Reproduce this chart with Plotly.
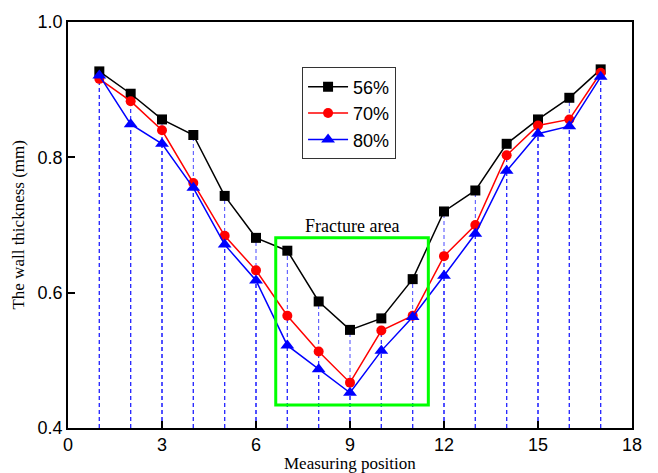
import plotly.graph_objects as go

# Measuring positions along the tube
positions = list(range(1, 18))

# Wall thickness (mm) for each thinning ratio
thick_56 = [0.927, 0.894, 0.856, 0.833, 0.743, 0.681, 0.662, 0.587, 0.545, 0.562,
            0.620, 0.720, 0.751, 0.820, 0.856, 0.888, 0.930]
thick_70 = [0.916, 0.883, 0.840, 0.762, 0.684, 0.633, 0.566, 0.513, 0.467, 0.544,
            0.566, 0.654, 0.700, 0.803, 0.847, 0.856, 0.925]
thick_80 = [0.921, 0.849, 0.820, 0.755, 0.671, 0.618, 0.522, 0.487, 0.452, 0.514,
            0.564, 0.625, 0.687, 0.780, 0.835, 0.846, 0.919]

series = [
    ("56%", thick_56, "#000000", "square", 10),
    ("70%", thick_70, "#ff0000", "circle", 10),
    ("80%", thick_80, "#0000ff", "triangle-up", 12),
]

y_min, y_max = 0.4, 1.0
serif = "Liberation Serif"
sans = "Liberation Sans"

fig = go.Figure()

# Dashed drop lines from every point down to the x axis
for name, vals, color, sym, size in series:
    xs, ys = [], []
    for x, v in zip(positions, vals):
        xs += [x, x, None]
        ys += [y_min, v, None]
    fig.add_trace(go.Scatter(
        x=xs, y=ys, mode="lines", showlegend=False, hoverinfo="skip",
        line=dict(color="rgba(40,40,255,0.85)", width=1, dash="4px,3px"),
    ))

for name, vals, color, sym, size in series:
    fig.add_trace(go.Scatter(
        x=positions, y=vals, name=name, mode="lines+markers",
        line=dict(color=color, width=1.5),
        marker=dict(symbol=sym, size=size, color=color),
    ))

# Fracture area box
fig.add_shape(type="rect", x0=6.63, x1=11.5, y0=0.434, y1=0.681,
              line=dict(color="#00ff00", width=3), fillcolor="rgba(0,0,0,0)")
fig.add_annotation(x=9.05, y=0.699, text="Fracture area", showarrow=False,
                   yanchor="middle", font=dict(family=serif, size=18, color="#000000"))

# Axis titles
fig.add_annotation(x=0.5, y=-0.087, xref="paper", yref="paper", showarrow=False,
                   text="Measuring position", yanchor="middle", xanchor="center",
                   font=dict(family=serif, size=17, color="#000000"))
fig.add_annotation(x=-0.088, y=0.502, xref="paper", yref="paper", showarrow=False,
                   text="The wall thickness (mm)", textangle=-90,
                   yanchor="middle", xanchor="center",
                   font=dict(family=serif, size=17, color="#000000"))

axis_common = dict(
    showline=True, linecolor="#000000", linewidth=1.5, mirror=True,
    ticks="inside", ticklen=7, tickwidth=1.5, tickcolor="#000000",
    showgrid=False, zeroline=False,
    tickfont=dict(family=sans, size=18, color="#000000"),
)

fig.update_layout(
    width=658, height=473,
    margin=dict(l=68, r=26, t=16, b=45),
    paper_bgcolor="white", plot_bgcolor="white",
    xaxis=dict(range=[0, 18], dtick=3, tick0=0, ticklabelstandoff=0, **axis_common),
    yaxis=dict(range=[y_min, y_max], dtick=0.2, tickformat=".1f", **axis_common),
    legend=dict(x=0.415, y=0.888, xanchor="left", yanchor="top",
                bordercolor="#333333", borderwidth=1, bgcolor="white",
                font=dict(family=sans, size=18, color="#000000"),
                itemwidth=40, tracegroupgap=0),
)

fig.write_html("out.html")
